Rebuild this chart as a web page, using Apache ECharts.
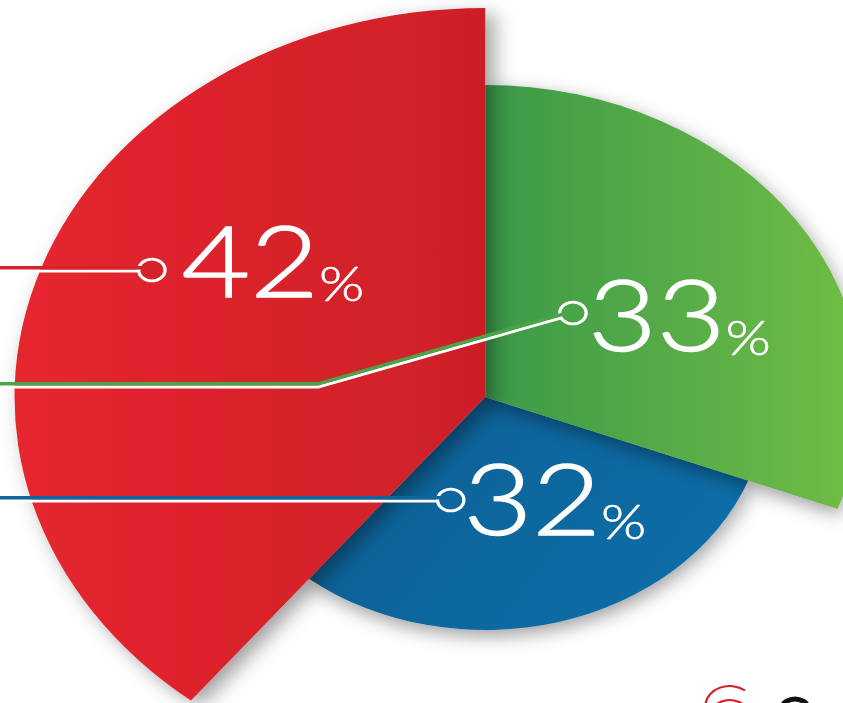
<!DOCTYPE html>
<html><head><meta charset="utf-8">
<script src="https://cdn.jsdelivr.net/npm/echarts@6/dist/echarts.min.js"></script>
<style>
html,body{margin:0;padding:0;background:#fff;overflow:hidden;}
#wrap{width:843px;height:703px;overflow:hidden;position:relative;background:#fff;}
#chart{width:697px;height:703px;transform:scaleX(1.21);transform-origin:0 0;}
</style></head><body>
<div id="wrap"><div id="chart"></div></div>
<script>
// ---- data ----
const categories = ['Segment A', 'Segment B', 'Segment C'];
const values = [42, 32, 33];

// ---- styles (kept apart from data) ----
const sliceRadius = [389, 233, 312];
const gradStops = [
  ['#e6262f', '#cd1f28'],
  ['#0b5e92', '#0c6da6'],
  ['#3b9a48', '#72bd45']
];
const lineColor = ['#d7222b', '#0d66a0', '#4aa547'];
// label anchor: left edge of the ring marker (chart coords before the horizontal stretch)
const labelAnchor = [
  {x: 116, y: 270, shift: 10.5, gap: 15, line: [[0, 271], [60, 271], [117, 271]]},
  {x: 363, y: 500, shift: 3, gap: 1, line: [[0, 501], [200, 501], [364, 501]]},
  {x: 464, y: 313, shift: 0, gap: 3, line: [[0, 387], [263, 387], [466, 317]]}
];
const center = [401, 397];
const drawOrder = [1, 2, 0];

const chart = echarts.init(document.getElementById('chart'), null, {renderer: 'svg'});

function sliceSeries(k) {
  return {
    type: 'pie',
    z: k === 0 ? 4 : (k === 2 ? 3 : 2),
    center: center,
    radius: [0, sliceRadius[k]],
    startAngle: 90,
    clockwise: false,
    avoidLabelOverlap: false,
    silent: true,
    animation: false,
    emphasis: {disabled: true},
    label: {show: false},
    labelLine: {show: false},
    data: categories.map(function (name, i) {
      const vis = i === k;
      return {
        name: name,
        value: values[i],
        itemStyle: vis ? {
          color: new echarts.graphic.LinearGradient(0, 0, 1, k === 1 ? 0.4 : 0, [
            {offset: 0, color: gradStops[k][0]},
            {offset: 1, color: gradStops[k][1]}
          ]),
          borderWidth: 0,
          shadowBlur: 18,
          shadowColor: 'rgba(0,0,0,0.38)',
          shadowOffsetX: k === 0 ? 7 : 2,
          shadowOffsetY: 6
        } : {color: 'rgba(0,0,0,0)', borderWidth: 0}
      };
    })
  };
}

function richFor(i) {
  const s = labelAnchor[i].shift;
  return {
    c: {width: 19, height: 19, borderRadius: 9.5, borderColor: '#fff', borderWidth: 2.8,
        backgroundColor: lineColor[i], verticalAlign: 'middle'},
    s: {width: labelAnchor[i].gap, height: 10},
    n: {fontFamily: 'Lato', fontWeight: 300, fontSize: 98, lineHeight: 100,
        color: '#fff', textBorderColor: '#fff', textBorderWidth: 1.4,
        verticalAlign: 'middle', padding: [0, 0, 2 * s, 0]},
    p: {fontFamily: 'Lato', fontWeight: 300, fontSize: 48, lineHeight: 48,
        color: '#fff', textBorderColor: '#fff', textBorderWidth: 0.6,
        verticalAlign: 'middle', padding: [46 - 2 * s, 0, 0, 0]}
  };
}

// overlay pie series: same layout as the slices, transparent, carries the labels & leader lines
function overlaySeries(isColourLine) {
  return {
    type: 'pie',
    z: isColourLine ? 10 : 9,
    center: center,
    radius: [0, sliceRadius[0]],
    startAngle: 90,
    clockwise: false,
    avoidLabelOverlap: false,
    silent: true,
    animation: false,
    emphasis: {disabled: true},
    itemStyle: {color: 'rgba(0,0,0,0)', borderWidth: 0},
    data: categories.map(function (name, i) {
      return {
        name: name,
        value: values[i],
        label: isColourLine ? {show: true, color: 'rgba(0,0,0,0)', formatter: '.'} : {show: true, rich: richFor(i)},
        labelLine: {show: true, smooth: false,
          lineStyle: {color: isColourLine ? lineColor[i] : '#fff', width: isColourLine ? 3.5 : 3}}
      };
    }),
    label: {
      show: true,
      position: 'outside',
      formatter: function (p) { return '{c|}{s|}{n|' + p.value + '}{p|%}'; }
    },
    labelLine: {show: true, smooth: false},
    labelLayout: function (params) {
      const a = labelAnchor[params.dataIndex];
      const pts = a.line.map(function (pt) { return [pt[0], pt[1] - (isColourLine ? 3.2 : 0)]; });
      return {x: a.x, y: a.y, align: 'left', verticalAlign: 'middle', labelLinePoints: pts};
    }
  };
}

chart.setOption({
  backgroundColor: '#fff',
  animation: false,
  graphic: [
    {type: 'arc', silent: true, shape: {cx: 603, cy: 706, r: 20, startAngle: Math.PI * 1.02, endAngle: Math.PI * 1.72},
     style: {stroke: '#d2232a', lineWidth: 2, fill: null}},
    {type: 'arc', silent: true, shape: {cx: 603, cy: 716, r: 16, startAngle: Math.PI * 1.05, endAngle: Math.PI * 1.85},
     style: {stroke: '#d2232a', lineWidth: 2, fill: null}},
    {type: 'arc', silent: true, shape: {cx: 657, cy: 710, r: 11, startAngle: Math.PI * 1.1, endAngle: Math.PI * 1.9},
     style: {stroke: '#111', lineWidth: 5, fill: null}}
  ],
  series: drawOrder.map(sliceSeries).concat([overlaySeries(false), overlaySeries(true)])
});
</script>
</body></html>
